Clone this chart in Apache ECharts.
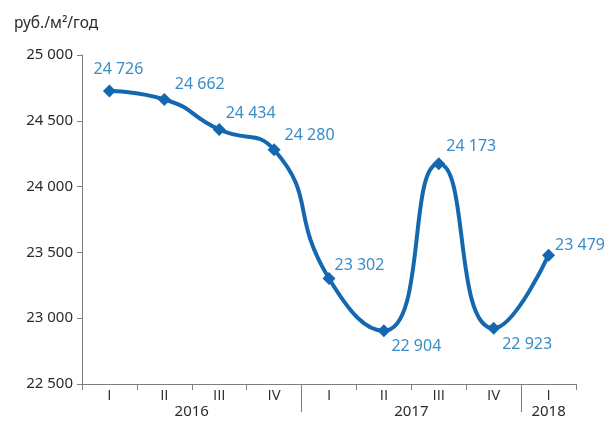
<!DOCTYPE html>
<html>
<head>
<meta charset="utf-8">
<script src="https://cdn.jsdelivr.net/npm/echarts@6/dist/echarts.min.js"></script>
<style>
  html, body { margin: 0; padding: 0; background: #fff; }
  #chart { width: 608px; height: 422px; }
</style>
</head>
<body>
<div id="chart"></div>
<script>
// Average asking rent, rubles per square metre per year, by quarter
const quarters = ['I', 'II', 'III', 'IV', 'I', 'II', 'III', 'IV', 'I'];
const years = ['2016', '2017', '2018'];
const quartersPerYear = [4, 4, 1];
const rent = [24726, 24662, 24434, 24280, 23302, 22904, 24173, 22923, 23479];
const yTicks = { min: 22500, max: 25000, step: 500 };

// label placement per point: [position, dx, dy]
const labelPlace = [
  ['top', 9, -2],
  ['right', -1, -15],
  ['right', -5, -16],
  ['right', -1, -14],
  ['right', -6, -13],
  ['right', -4, 16],
  ['right', -4, -17],
  ['right', -3, 16],
  ['right', -5, -10]
];

const fmt = v => String(v).replace(/\B(?=(\d{3})+(?!\d))/g, ' ');

// half-quarter grid for the year row: labels at year centres, separators between years
const yearSlots = [];
const yearBreaks = [];
let pos = 0;
years.forEach((y, i) => {
  const span = quartersPerYear[i] * 2;
  for (let k = 0; k < span; k++) yearSlots.push(k === span / 2 ? y : '');
  pos += span;
  if (i < years.length - 1) yearBreaks.push(pos);
});
yearSlots.push('');

const FONT = 'Noto Sans';
const AXIS_TEXT = '#2b2b2b';
const chart = echarts.init(document.getElementById('chart'));
chart.setOption({
  animation: false,
  textStyle: { fontFamily: FONT },
  title: {
    text: 'руб./м²/год',
    left: 9, top: 11,
    textStyle: { fontSize: 15.5, fontWeight: 'normal', color: AXIS_TEXT, fontFamily: FONT }
  },
  grid: { left: 82, right: 32, top: 55, bottom: 38, containLabel: false },
  xAxis: [
    {
      type: 'category',
      data: quarters,
      boundaryGap: true,
      axisLine: { lineStyle: { color: '#7f7f7f', width: 1 } },
      axisTick: { show: true, length: 6, lineStyle: { color: '#7f7f7f' } },
      axisLabel: { color: AXIS_TEXT, fontSize: 15, margin: 4, fontFamily: 'Open Sans' },
      splitLine: { show: false }
    },
    {
      type: 'category',
      data: yearSlots,
      boundaryGap: false,
      position: 'bottom',
      axisLine: { show: false },
      axisTick: {
        show: true,
        length: 28,
        interval: (idx) => yearBreaks.indexOf(idx) >= 0,
        lineStyle: { color: '#7f7f7f' }
      },
      axisLabel: {
        interval: 0,
        color: AXIS_TEXT, fontSize: 15, margin: 20, fontFamily: FONT
      },
      splitLine: { show: false }
    }
  ],
  yAxis: {
    type: 'value',
    min: yTicks.min, max: yTicks.max, interval: yTicks.step,
    axisLine: { show: true, lineStyle: { color: '#7f7f7f', width: 1 } },
    axisTick: { show: true, length: 5, lineStyle: { color: '#7f7f7f' } },
    axisLabel: { color: AXIS_TEXT, fontSize: 15, margin: 9, formatter: fmt, fontFamily: FONT },
    splitLine: { show: false }
  },
  series: [{
    type: 'line',
    xAxisIndex: 0,
    data: rent.map((v, i) => ({
      value: v,
      label: {
        position: labelPlace[i][0],
        offset: [labelPlace[i][1], labelPlace[i][2]]
      }
    })),
    smooth: 0.55,
    symbol: 'diamond',
    symbolSize: 13,
    lineStyle: { color: '#1468b0', width: 4 },
    itemStyle: { color: '#1468b0' },
    label: {
      show: true,
      color: '#3a8cc8',
      fontSize: 16,
      fontFamily: FONT,
      formatter: p => fmt(p.value)
    }
  }]
});
</script>
</body>
</html>
